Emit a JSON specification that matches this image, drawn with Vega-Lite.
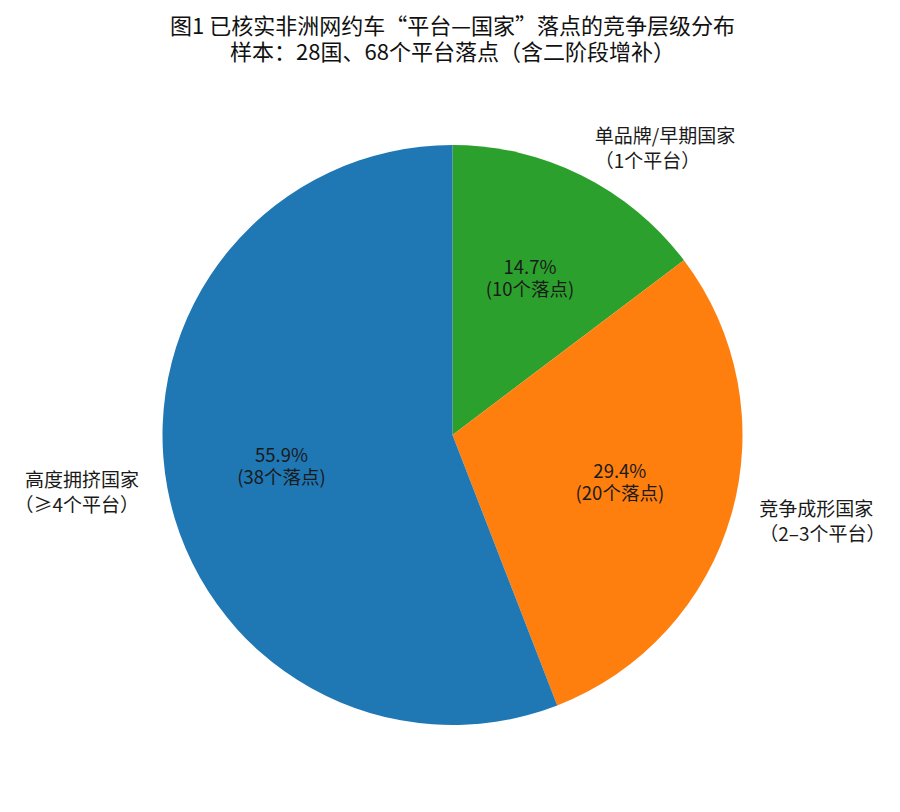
{
  "$schema": "https://vega.github.io/schema/vega-lite/v6.json",
  "autosize": {"type": "fit", "contains": "padding"},
  "width": 900,
  "height": 812,
  "padding": {"top": 16, "left": 5, "right": 0, "bottom": 17},
  "background": "white",
  "config": {"view": {"stroke": null}, "font": "Noto Sans CJK SC"},
  "title": {
    "text": ["图1  已核实非洲网约车“平台—国家”落点的竞争层级分布", "样本：28国、68个平台落点（含二阶段增补）"],
    "font": "Noto Sans CJK SC",
    "fontSize": 22,
    "fontWeight": "normal",
    "lineHeight": 26,
    "color": "#111111",
    "anchor": "middle",
    "offset": 10
  },
  "data": {
    "values": [
      {"rank": 1, "tier": "单品牌/早期国家", "outer": "单品牌/早期国家\n（1个平台）", "count": 10, "pct": "14.7%", "inner": "14.7%\n(10个落点)"},
      {"rank": 2, "tier": "竞争成形国家", "outer": "竞争成形国家\n（2–3个平台）", "count": 20, "pct": "29.4%", "inner": "29.4%\n(20个落点)"},
      {"rank": 3, "tier": "高度拥挤国家", "outer": "高度拥挤国家\n（≥4个平台）", "count": 38, "pct": "55.9%", "inner": "55.9%\n(38个落点)"}
    ]
  },
  "encoding": {
    "theta": {"field": "count", "type": "quantitative", "stack": true},
    "order": {"field": "rank", "type": "quantitative", "sort": "ascending"}
  },
  "layer": [
    {
      "mark": {"type": "arc", "radius": 290},
      "encoding": {
        "color": {
          "field": "tier",
          "type": "nominal",
          "scale": {"domain": ["单品牌/早期国家", "竞争成形国家", "高度拥挤国家"], "range": ["#2ca02c", "#ff7f0e", "#1f77b4"]},
          "legend": null
        }
      }
    },
    {
      "mark": {"type": "text", "radius": 174, "fontSize": 18.5, "lineHeight": 22, "lineBreak": "\n", "align": "center", "baseline": "middle", "dy": -11, "color": "#1a1a1a", "font": "Noto Sans CJK SC"},
      "encoding": {"text": {"field": "inner", "type": "nominal"}}
    },
    {
      "mark": {"type": "text", "radius": 319, "fontSize": 19, "lineHeight": 25, "lineBreak": "\n", "align": "left", "baseline": "middle", "dy": -12.5, "color": "#1a1a1a", "font": "Noto Sans CJK SC"},
      "encoding": {"text": {"condition": {"test": "datum.rank < 3", "field": "outer"}, "value": ""}}
    },
    {
      "mark": {"type": "text", "radius": 319, "fontSize": 19, "lineHeight": 25, "lineBreak": "\n", "align": "right", "baseline": "middle", "dy": -12.5, "color": "#1a1a1a", "font": "Noto Sans CJK SC"},
      "encoding": {"text": {"condition": {"test": "datum.rank == 3", "field": "outer"}, "value": ""}}
    }
  ]
}
